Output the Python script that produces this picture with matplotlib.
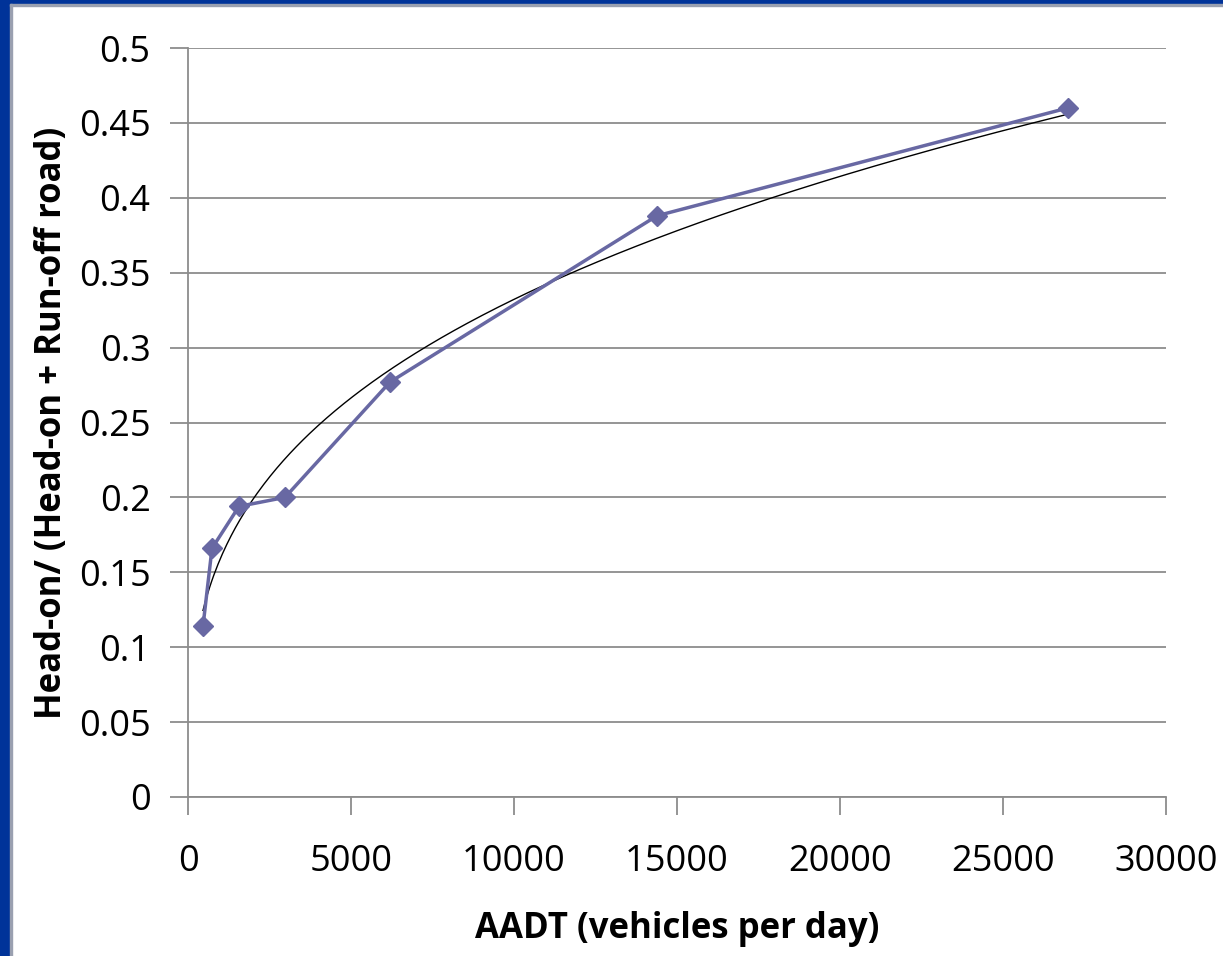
import numpy as np
import matplotlib
matplotlib.use("Agg")
import matplotlib.pyplot as plt
from matplotlib.patches import Rectangle

aadt = [460, 736, 1564, 2975, 6196, 14386, 26994]
ratio = [0.114, 0.166, 0.194, 0.200, 0.277, 0.388, 0.460]
xticks = [0, 5000, 10000, 15000, 20000, 25000, 30000]
yticks = [0, 0.05, 0.1, 0.15, 0.2, 0.25, 0.3, 0.35, 0.4, 0.45, 0.5]
ytick_labels = ["0", "0.05", "0.1", "0.15", "0.2", "0.25", "0.3", "0.35", "0.4", "0.45", "0.5"]

plt.rcParams['font.family'] = ['Open Sans', 'DejaVu Sans']

W, H = 1223, 956
fig = plt.figure(figsize=(W/100, H/100), dpi=100)
ax = fig.add_axes([188/W, 1-797/H, (1166-188)/W, (797-48)/H])

# power trendline fitted to the data (Excel-style)
b, lna = np.polyfit(np.log(aadt), np.log(ratio), 1)
xt = np.linspace(min(aadt), max(aadt), 400)
yt = np.exp(lna) * xt**b
ax.plot(xt, yt, color='black', lw=1.0, zorder=3)

ax.plot(aadt, ratio, color='#6868a3', lw=2.5, marker='D', markersize=10,
        markeredgecolor='#6868a3', zorder=4, clip_on=False)

ax.set_xlim(0, 30000)
ax.set_ylim(0, 0.5)
ax.set_xticks(xticks)
ax.set_xticklabels([str(t) for t in xticks])
ax.set_yticks(yticks)
ax.set_yticklabels(ytick_labels)
ax.yaxis.grid(True, color='#8c8c8c', lw=1.3)
ax.set_axisbelow(True)
for s in ['top', 'right']:
    ax.spines[s].set_visible(False)
for s in ['left', 'bottom']:
    ax.spines[s].set_color('#8c8c8c')
    ax.spines[s].set_linewidth(1.3)
ax.tick_params(axis='both', direction='out', length=13, width=1.3, color='#8c8c8c',
               labelsize=26, labelcolor='black')
ax.tick_params(axis='x', pad=21)
ax.tick_params(axis='y', pad=14)

ax.set_xlabel('AADT (vehicles per day)', fontsize=25, fontweight='bold', labelpad=22)
ax.set_ylabel('Head-on/ (Head-on + Run-off road)', fontsize=25, fontweight='bold', labelpad=6)

# frame
fig.patches.append(Rectangle((0, 0), 10/W, 1, transform=fig.transFigure, color='#003399', zorder=10))
fig.patches.append(Rectangle((0, 1-4/H), 1, 4/H, transform=fig.transFigure, color='#003399', zorder=10))
fig.patches.append(Rectangle((10/W, 0), 1.5/W, 1-4/H, transform=fig.transFigure, color='#9aa0b0', zorder=10))
fig.patches.append(Rectangle((10/W, 1-5.5/H), 1, 1.5/H, transform=fig.transFigure, color='#9aa0b0', zorder=10))

fig.savefig('out.png', dpi=100)
